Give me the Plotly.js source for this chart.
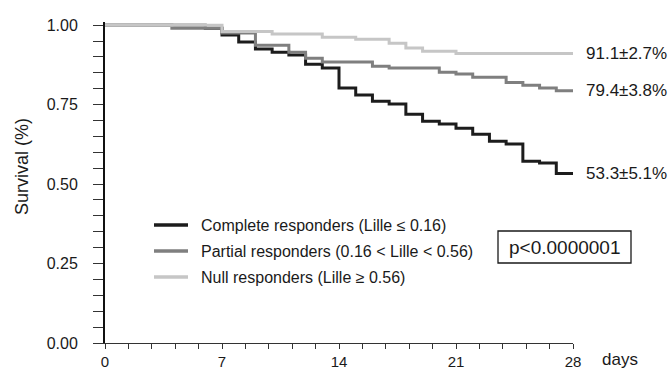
<!DOCTYPE html>
<html>
<head>
<meta charset="utf-8">
<script src="https://cdn.plot.ly/plotly-3.0.1.min.js"></script>
<style>html,body{margin:0;padding:0;background:#fff;}#chart{width:670px;height:371px;}</style>
</head>
<body>
<div id="chart"></div>
<script>
// ---- data ----
const completeDays = [0, 6, 7, 8, 9, 10, 11, 12, 13, 14, 15, 16, 17, 18, 19, 20, 21, 22, 23, 24, 25, 26, 27, 28];
const completeSurv = [1.00, 0.99, 0.969, 0.947, 0.925, 0.915, 0.906, 0.877, 0.865, 0.802, 0.780, 0.761, 0.752, 0.720, 0.698, 0.689, 0.676, 0.657, 0.635, 0.626, 0.572, 0.566, 0.533, 0.533];

const partialDays = [0, 4, 7, 9, 11, 12, 13, 16, 17, 20, 21, 22, 24, 25, 26, 27, 28];
const partialSurv = [1.00, 0.99, 0.975, 0.937, 0.915, 0.896, 0.884, 0.871, 0.865, 0.852, 0.846, 0.836, 0.820, 0.811, 0.802, 0.794, 0.794];

const nullDays = [0, 7, 10, 13, 15, 17, 18, 19, 21, 28];
const nullSurv = [1.00, 0.98, 0.972, 0.962, 0.956, 0.943, 0.928, 0.918, 0.911, 0.911];

const seriesNames = ['Complete responders (Lille \u2264 0.16)', 'Partial responders (0.16 < Lille < 0.56)', 'Null responders (Lille \u2265 0.56)'];
const endLabels = ['53.3\u00b15.1%', '79.4\u00b13.8%', '91.1\u00b12.7%'];
const xTickVals = [0, 7, 14, 21, 28];
const xTickText = ['0', '7', '14', '21', '28'];
const yTickVals = [0, 0.25, 0.5, 0.75, 1];
const yTickText = ['0.00', '0.25', '0.50', '0.75', '1.00'];
const pValueText = 'p<0.0000001';

const colors = ['#1c1c1c', '#7f7f7f', '#c6c6c6'];
const FONT = 'Liberation Sans, Arial, Helvetica, sans-serif';

const xs = [completeDays, partialDays, nullDays];
const ys = [completeSurv, partialSurv, nullSurv];

const traces = xs.map((x, i) => ({
  x: x, y: ys[i], type: 'scatter', mode: 'lines',
  line: {shape: 'hv', color: colors[i], width: 3},
  name: seriesNames[i], showlegend: false, hoverinfo: 'skip'
}));

// pixel helpers for paper coords (plot area x 105..573, y 22..343)
const px = v => (v - 105) / 468;
const H = 321;
const pyp = v => (343 - v) / H;

const legendRows = [225, 251, 277];
const shapes = [];
const annotations = [];
legendRows.forEach((r, i) => {
  shapes.push({type: 'line', xref: 'paper', yref: 'paper', x0: px(154), x1: px(188), y0: pyp(r), y1: pyp(r),
    line: {color: colors[i], width: 3.5}});
  annotations.push({xref: 'paper', yref: 'paper', x: px(199), y: pyp(r), xanchor: 'left', yanchor: 'middle',
    text: seriesNames[i], showarrow: false, font: {family: FONT, size: 16, color: '#1a1a1a'}});
});

// end labels
const finals = [completeSurv[completeSurv.length - 1], partialSurv[partialSurv.length - 1], nullSurv[nullSurv.length - 1]];
finals.forEach((v, i) => {
  annotations.push({xref: 'x', yref: 'y', x: 28, y: v, xanchor: 'left', yanchor: 'middle', xshift: 11,
    text: endLabels[i], showarrow: false, font: {family: FONT, size: 17, color: '#1a1a1a'}});
});

// p-value box
shapes.push({type: 'rect', xref: 'paper', yref: 'paper', x0: px(498), x1: px(631), y0: pyp(263), y1: pyp(231),
  line: {color: '#1a1a1a', width: 1.3}, fillcolor: 'rgba(0,0,0,0)'});
annotations.push({xref: 'paper', yref: 'paper', x: px(564.5), y: pyp(247), xanchor: 'center', yanchor: 'middle',
  text: pValueText, showarrow: false, font: {family: FONT, size: 19, color: '#1a1a1a'}});

// axis titles
annotations.push({xref: 'paper', yref: 'paper', x: px(22), y: pyp(167), xanchor: 'center', yanchor: 'middle',
  text: 'Survival (%)', textangle: -90, showarrow: false, font: {family: FONT, size: 18, color: '#1a1a1a'}});
annotations.push({xref: 'paper', yref: 'paper', x: px(620), y: pyp(360), xanchor: 'center', yanchor: 'middle',
  text: 'days', showarrow: false, font: {family: FONT, size: 17, color: '#1a1a1a'}});

const layout = {
  width: 670, height: 371,
  margin: {l: 105, r: 97, t: 22, b: 28},
  paper_bgcolor: '#fff', plot_bgcolor: '#fff',
  showlegend: false,
  font: {family: FONT, size: 16, color: '#1a1a1a'},
  xaxis: {
    range: [0, 28], tickvals: xTickVals, ticktext: xTickText,
    ticks: 'outside', ticklen: 5, tickwidth: 1, tickcolor: '#333',
    showline: true, linecolor: '#333', linewidth: 1,
    showgrid: false, zeroline: false, ticklabelstandoff: 0,
    tickfont: {family: FONT, size: 15, color: '#1a1a1a'},
    minor: {tick0: 0, dtick: 1.4, ticks: 'outside', ticklen: 5, tickwidth: 1, tickcolor: '#333', showgrid: false},
    fixedrange: true
  },
  yaxis: {
    range: [0, 1.01], tickvals: yTickVals, ticktext: yTickText,
    ticks: 'outside', ticklen: 10, tickwidth: 1, tickcolor: '#333',
    showline: true, linecolor: '#111', linewidth: 2,
    showgrid: false, zeroline: false, ticklabelstandoff: 12,
    tickfont: {family: FONT, size: 16, color: '#1a1a1a'},
    minor: {tick0: 0, dtick: 0.05, ticks: 'outside', ticklen: 10, tickwidth: 1, tickcolor: '#333', showgrid: false},
    fixedrange: true
  },
  shapes: shapes,
  annotations: annotations
};

Plotly.newPlot('chart', traces, layout, {staticPlot: true, displayModeBar: false});
</script>
</body>
</html>
